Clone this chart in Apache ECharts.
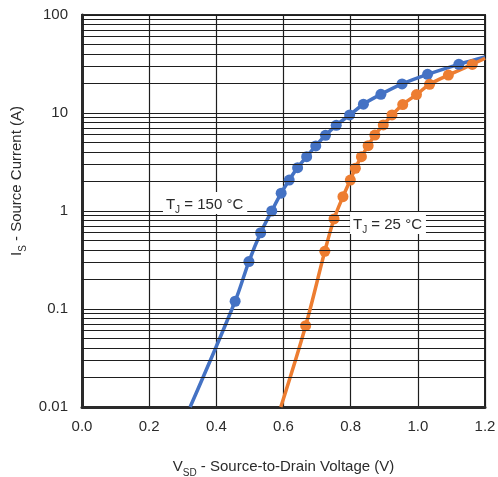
<!DOCTYPE html>
<html>
<head>
<meta charset="utf-8">
<script src="https://cdn.jsdelivr.net/npm/echarts@6/dist/echarts.min.js"></script>
<style>
html,body{margin:0;padding:0;background:#fff;}
#c{width:498px;height:477px;}
</style>
</head>
<body>
<div id="c"></div>
<script>
// ---- data ----
const blueV = [0.322, 0.456, 0.497, 0.532, 0.565, 0.593, 0.617, 0.642, 0.669, 0.696, 0.725, 0.757, 0.797, 0.838, 0.890, 0.953, 1.029, 1.122, 1.2];
const blueI = [0.01, 0.120, 0.305, 0.60, 1.00, 1.52, 2.07, 2.77, 3.58, 4.61, 5.92, 7.49, 9.55, 12.3, 15.5, 19.8, 24.8, 31.4, 37.3];
const orangeV = [0.592, 0.666, 0.723, 0.7505, 0.777, 0.799, 0.814, 0.832, 0.852, 0.872, 0.897, 0.923, 0.955, 0.996, 1.035, 1.091, 1.162, 1.2];
const orangeI = [0.01, 0.0676, 0.388, 0.829, 1.40, 2.07, 2.73, 3.58, 4.64, 5.96, 7.55, 9.55, 12.2, 15.4, 19.6, 24.4, 31.3, 36.2];
const seriesNames = ['T_J = 150 °C', 'T_J = 25 °C'];
const xTicks = [0.0, 0.2, 0.4, 0.6, 0.8, 1.0, 1.2];
const yMajorTicks = [0.01, 0.1, 1, 10, 100];
const yMinorTicks = [0.02,0.03,0.04,0.05,0.06,0.07,0.08,0.09,
                     0.2,0.3,0.4,0.5,0.6,0.7,0.8,0.9,
                     2,3,4,5,6,7,8,9,
                     20,30,40,50,60,70,80,90];
// annotation anchors in data space [V, I]
const label150 = [0.25, 1.21];
const label25 = [0.807, 0.754];

function buildData(vs, is) {
  return vs.map((v, k) => {
    const item = {value: [v, is[k]]};
    if (k === 0 || k === vs.length - 1) item.symbol = 'none';
    return item;
  });
}

const chart = echarts.init(document.getElementById('c'), null, {renderer: 'canvas'});
const font = 'Liberation Sans, Arial, sans-serif';
const gridColor = '#1e1e1e';
const textColor = '#2b2b2b';

chart.setOption({
  animation: false,
  backgroundColor: '#fff',
  grid: {left: 82, right: 13, top: 15, bottom: 70, show: true, borderColor: '#2a2a2a', borderWidth: 2,
         backgroundColor: 'transparent', containLabel: false, outerBoundsMode: 'none'},
  xAxis: {
    type: 'value', min: xTicks[0], max: xTicks[xTicks.length - 1], interval: 0.2,
    axisLine: {show: true, lineStyle: {color: '#2a2a2a', width: 3}},
    axisTick: {show: false},
    axisLabel: {color: textColor, fontSize: 15, fontFamily: font, margin: 12, formatter: v => v.toFixed(1)},
    splitLine: {show: true, lineStyle: {color: gridColor, width: 1.2}},
    name: '{m|V}{s|SD}{m| - Source-to-Drain Voltage (V)}',
    nameLocation: 'middle', nameGap: 47,
    nameTextStyle: {
      rich: {
        m: {fontSize: 15, color: textColor, fontFamily: font, lineHeight: 20, verticalAlign: 'bottom'},
        s: {fontSize: 10, color: textColor, fontFamily: font, lineHeight: 14, verticalAlign: 'bottom', padding: [0, 0, -4, 0]}
      }
    }
  },
  yAxis: {
    type: 'log', logBase: 10, min: yMajorTicks[0], max: yMajorTicks[yMajorTicks.length - 1],
    axisLine: {show: true, lineStyle: {color: '#2a2a2a', width: 3}},
    axisTick: {show: false},
    axisLabel: {color: textColor, fontSize: 15, fontFamily: font, margin: 14},
    splitLine: {show: true, lineStyle: {color: gridColor, width: 1.2}},
    name: '{m|I}{s|S}{m| - Source Current (A)}',
    nameLocation: 'middle', nameGap: 58,
    nameTextStyle: {
      padding: [0, 0, 0, 60],
      rich: {
        m: {fontSize: 15, color: textColor, fontFamily: font, lineHeight: 20, verticalAlign: 'bottom'},
        s: {fontSize: 10, color: textColor, fontFamily: font, lineHeight: 14, verticalAlign: 'bottom', padding: [0, 0, -4, 0]}
      }
    }
  },
  series: [
    {
      name: 'minorGrid', type: 'line', data: [], z: 1, silent: true,
      markLine: {
        silent: true, symbol: 'none', label: {show: false},
        lineStyle: {color: gridColor, width: 1.2, type: 'solid'},
        data: yMinorTicks.map(t => ({yAxis: t}))
      }
    },
    {
      name: seriesNames[0], type: 'line', smooth: 0.35, z: 3,
      data: buildData(blueV, blueI),
      symbol: 'circle', symbolSize: 11,
      lineStyle: {color: '#4472C4', width: 3.5},
      itemStyle: {color: '#4472C4'}
    },
    {
      name: seriesNames[1], type: 'line', smooth: 0.35, z: 3,
      data: buildData(orangeV, orangeI),
      symbol: 'circle', symbolSize: 11,
      lineStyle: {color: '#ED7D31', width: 3.5},
      itemStyle: {color: '#ED7D31'}
    }
  ]
});

const p150 = chart.convertToPixel({gridIndex: 0}, label150);
const p25 = chart.convertToPixel({gridIndex: 0}, label25);
const labStyle = (txt) => ({
  text: txt,
  rich: {
    m: {fontSize: 15, fill: textColor, fontFamily: font, lineHeight: 18, verticalAlign: 'bottom'},
    s: {fontSize: 10, fill: textColor, fontFamily: font, lineHeight: 12, verticalAlign: 'bottom', padding: [0, 0, -3, 0]}
  },
  backgroundColor: '#fff',
  padding: [2, 4, 2, 3],
  verticalAlign: 'middle',
  align: 'left'
});
chart.setOption({
  graphic: [
    {type: 'text', x: p150[0] - 3, y: p150[1], z: 10, style: labStyle('{m|T}{s|J}{m| = 150 °C}')},
    {type: 'text', x: p25[0] - 3, y: p25[1], z: 10, style: labStyle('{m|T}{s|J}{m| = 25 °C}')}
  ]
});
</script>
</body>
</html>
